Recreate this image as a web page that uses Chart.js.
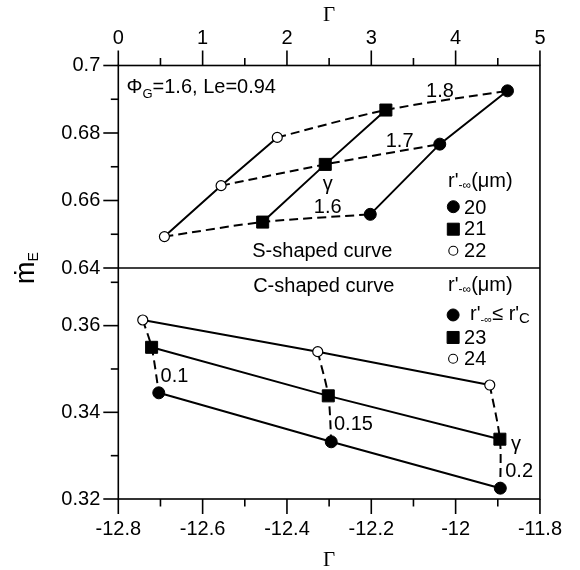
<!DOCTYPE html>
<html><head><meta charset="utf-8">
<script src="https://cdn.jsdelivr.net/npm/chart.js@4.4.1/dist/chart.umd.min.js"></script>
<style>html,body{margin:0;padding:0;background:#fff}canvas{display:block}</style>
</head><body>
<canvas id="c" width="580" height="570" style="width:580px;height:570px"></canvas>
<script>
// ---------- data: top panel (S-shaped curve), r'-inf = 20, 21, 22 um ----------
const gammaTop20 = [2.988, 3.812, 4.615];
const mTop20     = [0.6559, 0.6767, 0.6925];
const gammaTop21 = [1.712, 2.454, 3.173];
const mTop21     = [0.6536, 0.6707, 0.6868];
const gammaTop22 = [0.547, 1.219, 1.885];
const mTop22     = [0.6493, 0.6644, 0.6787];
const phiLabelsTop = ['1.6', '1.7', '1.8'];

// ---------- data: bottom panel (C-shaped curve), r'-inf <= r'c, 23, 24 um ----------
const gammaBotC  = [-12.704, -12.295, -11.894];
const mBotC      = [0.3445, 0.3332, 0.3225];
const gammaBot23 = [-12.721, -12.302, -11.895];
const mBot23     = [0.355, 0.3438, 0.3338];
const gammaBot24 = [-12.742, -12.327, -11.919];
const mBot24     = [0.3613, 0.354, 0.3463];
const phiLabelsBot = ['0.1', '0.15', '0.2'];

// ---------- ticks ----------
const xTopTicks = [0, 1, 2, 3, 4, 5];
const xTopMinor = [0.5, 1.5, 2.5, 3.5, 4.5];
const xBotTicks = [-12.8, -12.6, -12.4, -12.2, -12, -11.8];
const xBotMinor = [-12.7, -12.5, -12.3, -12.1, -11.9];
const yTopTicks = [0.64, 0.66, 0.68, 0.7];
const yTopMinor = [0.65, 0.67, 0.69];
const yBotTicks = [0.32, 0.34, 0.36];
const yBotMinor = [0.33, 0.35, 0.37];

const SANS = '"Liberation Sans", Arial, sans-serif';
const SERIF = '"Liberation Serif", "Times New Roman", serif';

const pts = (xs, ys) => xs.map((x, i) => ({x: x, y: ys[i]}));
const filled = {pointStyle: 'circle', pointRadius: 6, pointBackgroundColor: '#000', pointBorderColor: '#000', pointBorderWidth: 1};
const square = {pointStyle: 'rect', pointRadius: 8.5, pointBackgroundColor: '#000', pointBorderColor: '#000', pointBorderWidth: 1};
const open = {pointStyle: 'circle', pointRadius: 5, pointBackgroundColor: '#fff', pointBorderColor: '#000', pointBorderWidth: 1.2};
const solid = {showLine: true, borderColor: '#000', borderWidth: 2, tension: 0, fill: false};
const dashed = {showLine: true, borderColor: '#000', borderWidth: 2, borderDash: [9, 5], tension: 0.3, fill: false, pointRadius: 0};

const datasets = [];
// marker series first (drawn on top)
datasets.push(Object.assign({xAxisID: 'xTop', yAxisID: 'yTop', data: pts(gammaTop20, mTop20)}, solid, filled));
datasets.push(Object.assign({xAxisID: 'xTop', yAxisID: 'yTop', data: pts(gammaTop21, mTop21)}, solid, square));
datasets.push(Object.assign({xAxisID: 'xTop', yAxisID: 'yTop', data: pts(gammaTop22, mTop22)}, solid, open));
datasets.push(Object.assign({xAxisID: 'xBot', yAxisID: 'yBot', data: pts(gammaBotC, mBotC)}, solid, filled));
datasets.push(Object.assign({xAxisID: 'xBot', yAxisID: 'yBot', data: pts(gammaBot23, mBot23)}, solid, square));
datasets.push(Object.assign({xAxisID: 'xBot', yAxisID: 'yBot', data: pts(gammaBot24, mBot24)}, solid, open));
// dashed lines of constant gamma
phiLabelsTop.forEach((_, i) => {
  datasets.push(Object.assign({xAxisID: 'xTop', yAxisID: 'yTop',
    data: pts([gammaTop22[i], gammaTop21[i], gammaTop20[i]], [mTop22[i], mTop21[i], mTop20[i]])}, dashed));
});
phiLabelsBot.forEach((_, i) => {
  datasets.push(Object.assign({xAxisID: 'xBot', yAxisID: 'yBot',
    data: pts([gammaBot24[i], gammaBot23[i], gammaBotC[i]], [mBot24[i], mBot23[i], mBotC[i]])}, dashed));
});

function rich(ctx, segs, x, y, align) {
  let total = 0;
  segs.forEach(s => { ctx.font = (s.size || 20) + 'px ' + (s.family || SANS); s.w = ctx.measureText(s.t).width; total += s.w; });
  let cx = align === 'center' ? x - total / 2 : x;
  ctx.textAlign = 'left';
  ctx.textBaseline = 'alphabetic';
  segs.forEach(s => { ctx.font = (s.size || 20) + 'px ' + (s.family || SANS); ctx.fillText(s.t, cx, y + (s.dy || 0)); cx += s.w; });
}
function seg(ctx, x1, y1, x2, y2) { ctx.beginPath(); ctx.moveTo(x1, y1); ctx.lineTo(x2, y2); ctx.stroke(); }
function marker(ctx, style, x, y) {
  const o = style === 'square' ? {pointStyle: 'rect', radius: 8.5, borderWidth: 1}
          : style === 'filled' ? {pointStyle: 'circle', radius: 6, borderWidth: 1}
          : {pointStyle: 'circle', radius: 4.5, borderWidth: 1.1};
  ctx.save();
  ctx.fillStyle = style === 'open' ? '#fff' : '#000';
  ctx.strokeStyle = '#000';
  ctx.lineWidth = o.borderWidth;
  Chart.helpers.drawPoint(ctx, o, x, y);
  ctx.restore();
}

const decor = {
  id: 'decor',
  afterDraw(chart) {
    const {ctx, chartArea: a, scales: s} = chart;
    const P = (sx, sy, gx, my) => [s[sx].getPixelForValue(gx), s[sy].getPixelForValue(my)];
    ctx.save();
    ctx.strokeStyle = '#000';
    ctx.fillStyle = '#000';
    ctx.lineWidth = 1.6;
    ctx.setLineDash([]);
    ctx.strokeRect(a.left, a.top, a.right - a.left, a.bottom - a.top);
    const ySep = s.yTop.getPixelForValue(0.64);
    seg(ctx, a.left, ySep, a.right, ySep);
    // ticks
    xTopTicks.forEach(v => { const x = s.xTop.getPixelForValue(v); seg(ctx, x, a.top, x, a.top - 15); });
    xTopMinor.forEach(v => { const x = s.xTop.getPixelForValue(v); seg(ctx, x, a.top, x, a.top - 7.5); });
    xBotTicks.forEach(v => { const x = s.xBot.getPixelForValue(v); seg(ctx, x, a.bottom, x, a.bottom + 15); });
    xBotMinor.forEach(v => { const x = s.xBot.getPixelForValue(v); seg(ctx, x, a.bottom, x, a.bottom + 7.5); });
    yTopTicks.forEach(v => { const y = s.yTop.getPixelForValue(v); seg(ctx, a.left, y, a.left - 15, y); });
    yTopMinor.forEach(v => { const y = s.yTop.getPixelForValue(v); seg(ctx, a.left, y, a.left - 7.5, y); });
    yBotTicks.forEach(v => { const y = s.yBot.getPixelForValue(v); seg(ctx, a.left, y, a.left - 15, y); });
    yBotMinor.forEach(v => { const y = s.yBot.getPixelForValue(v); seg(ctx, a.left, y, a.left - 7.5, y); });

    // axis titles
    const cxm = (a.left + a.right) / 2;
    rich(ctx, [{t: 'Γ', size: 21, family: SERIF}], cxm, 21, 'center');
    rich(ctx, [{t: 'Γ', size: 21, family: SERIF}], cxm, 566, 'center');
    // y title, rotated
    ctx.save();
    ctx.translate(34, 268);
    ctx.rotate(-Math.PI / 2);
    rich(ctx, [{t: 'ṁ', size: 27}, {t: 'E', size: 14, dy: 4}], 0, 0, 'center');
    ctx.restore();

    // top panel annotations
    let p;
    p = P('xTop', 'yTop', 0.097, 0.69185);
    rich(ctx, [{t: 'Φ'}, {t: 'G', size: 13, dy: 5}, {t: '=1.6, Le=0.94'}], p[0], p[1], 'left');
    p = P('xTop', 'yTop', 3.815, 0.69067); rich(ctx, [{t: phiLabelsTop[2]}], p[0], p[1], 'center');
    p = P('xTop', 'yTop', 3.336, 0.67586); rich(ctx, [{t: phiLabelsTop[1]}], p[0], p[1], 'center');
    p = P('xTop', 'yTop', 2.483, 0.65622); rich(ctx, [{t: phiLabelsTop[0]}], p[0], p[1], 'center');
    p = P('xTop', 'yTop', 2.483, 0.66312); rich(ctx, [{t: 'γ'}], p[0], p[1], 'center');
    p = P('xTop', 'yTop', 2.419, 0.64328); rich(ctx, [{t: 'S-shaped curve'}], p[0], p[1], 'center');
    // top legend
    p = P('xTop', 'yTop', 3.911, 0.6640);
    rich(ctx, [{t: "r'"}, {t: '-∞', size: 12, dy: 2}, {t: '(μm)'}], p[0], p[1], 'left');
    marker(ctx, 'filled', p[0] + 5.2, p[1] + 19.7); rich(ctx, [{t: '20'}], p[0] + 16, p[1] + 27, 'left');
    marker(ctx, 'square', p[0] + 5.2, p[1] + 42.2); rich(ctx, [{t: '21'}], p[0] + 16, p[1] + 48, 'left');
    marker(ctx, 'open', p[0] + 5.2, p[1] + 63.8); rich(ctx, [{t: '22'}], p[0] + 16, p[1] + 69.7, 'left');

    // bottom panel annotations
    p = P('xBot', 'yBot', -12.3127, 0.36777); rich(ctx, [{t: 'C-shaped curve'}], p[0], p[1], 'center');
    p = P('xBot', 'yBot', -12.6999, 0.34708); rich(ctx, [{t: phiLabelsBot[0]}], p[0], p[1], 'left');
    p = P('xBot', 'yBot', -12.2885, 0.33594); rich(ctx, [{t: phiLabelsBot[1]}], p[0], p[1], 'left');
    p = P('xBot', 'yBot', -11.8824, 0.32517); rich(ctx, [{t: phiLabelsBot[2]}], p[0], p[1], 'left');
    p = P('xBot', 'yBot', -11.857, 0.33133); rich(ctx, [{t: 'γ'}], p[0], p[1], 'center');
    // bottom legend
    p = P('xBot', 'yBot', -12.0178, 0.36807);
    rich(ctx, [{t: "r'"}, {t: '-∞', size: 12, dy: 2}, {t: '(μm)'}], p[0], p[1], 'left');
    marker(ctx, 'filled', p[0] + 5, p[1] + 24.3);
    rich(ctx, [{t: "r'"}, {t: '-∞', size: 11, dy: 3}, {t: '≤'}, {t: " r'"}, {t: 'C', size: 15, dy: 3}], p[0] + 22, p[1] + 29.3, 'left');
    marker(ctx, 'square', p[0] + 5, p[1] + 46.8); rich(ctx, [{t: '23'}], p[0] + 16, p[1] + 53.3, 'left');
    marker(ctx, 'open', p[0] + 5, p[1] + 68.1); rich(ctx, [{t: '24'}], p[0] + 16, p[1] + 74.3, 'left');
    ctx.restore();
  }
};

const tickFont = {family: SANS, size: 20};
const fmt1 = v => String(Math.round(v * 10) / 10);
const fmt2 = v => String(Math.round(v * 100) / 100);
const setTicks = arr => scale => { scale.ticks = arr.map(v => ({value: v})); };

new Chart(document.getElementById('c'), {
  type: 'scatter',
  data: {datasets: datasets},
  options: {
    responsive: false,
    animation: false,
    events: [],
    layout: {padding: {left: 0, right: 28.3, top: 0, bottom: 0}},
    plugins: {legend: {display: false}, tooltip: {enabled: false}},
    scales: {
      xTop: {axis: 'x', type: 'linear', position: 'top', min: 0, max: 5,
        afterBuildTicks: setTicks(xTopTicks),
        grid: {display: false, drawTicks: false}, border: {display: false},
        ticks: {font: tickFont, color: '#000', padding: 15.5, maxRotation: 0, callback: fmt1},
        afterFit: sc => { sc.height = 65.5; }},
      xBot: {axis: 'x', type: 'linear', position: 'bottom', min: -12.8, max: -11.8,
        afterBuildTicks: setTicks(xBotTicks),
        grid: {display: false, drawTicks: false}, border: {display: false},
        ticks: {font: tickFont, color: '#000', padding: 18, maxRotation: 0, callback: fmt1},
        afterFit: sc => { sc.height = 71; }},
      yBot: {axis: 'y', type: 'linear', position: 'left', stack: 'm', stackWeight: 231, weight: 0,
        min: 0.32, max: 0.3733,
        afterBuildTicks: setTicks(yBotTicks),
        grid: {display: false, drawTicks: false}, border: {display: false},
        ticks: {font: tickFont, color: '#000', padding: 18, callback: fmt2},
        afterFit: sc => { sc.width = 118.3; }},
      yTop: {axis: 'y', type: 'linear', position: 'left', stack: 'm', stackWeight: 202.5, weight: 1,
        min: 0.64, max: 0.7,
        afterBuildTicks: setTicks(yTopTicks),
        grid: {display: false, drawTicks: false}, border: {display: false},
        ticks: {font: tickFont, color: '#000', padding: 18, callback: fmt2},
        afterFit: sc => { sc.width = 118.3; }}
    }
  },
  plugins: [decor]
});
</script>
</body></html>
